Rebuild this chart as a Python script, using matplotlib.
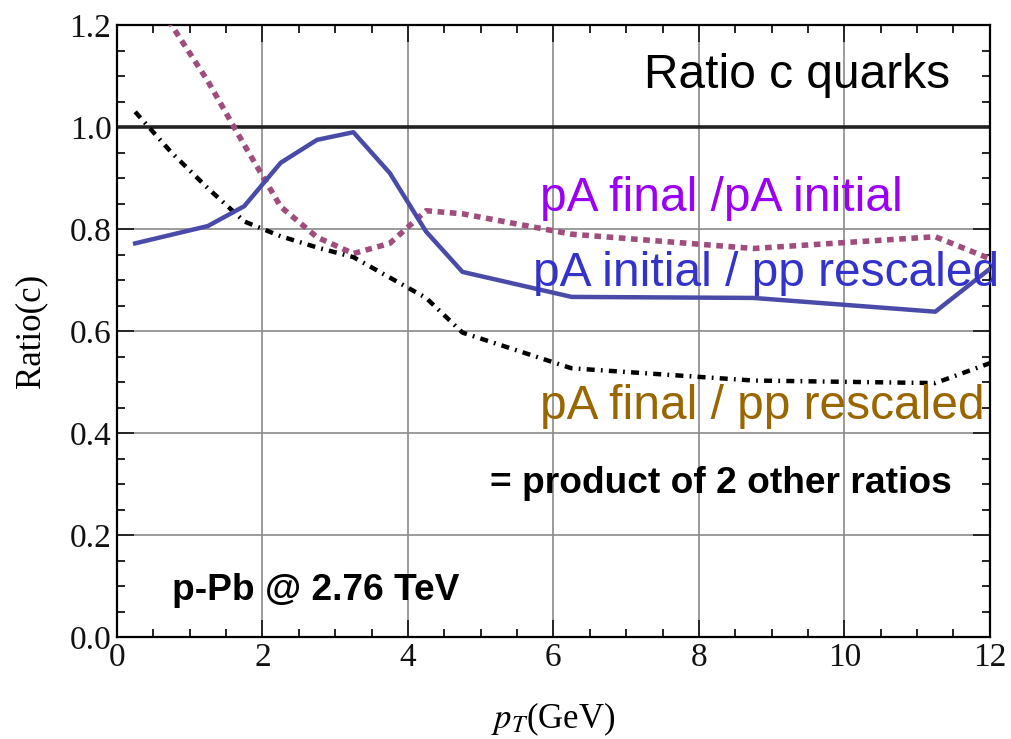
import matplotlib.pyplot as plt
import numpy as np
from matplotlib.ticker import MultipleLocator

plt.rcParams['mathtext.fontset'] = 'stix'

# pA initial / pp rescaled (solid)
pt_ini = np.array([0.25, 0.75, 1.25, 1.75, 2.25, 2.75, 3.25, 3.75, 4.25, 4.75, 6.25, 8.75, 11.25, 12.0])
r_ini = np.array([0.772, 0.789, 0.806, 0.845, 0.93, 0.975, 0.99, 0.91, 0.795, 0.716, 0.667, 0.665, 0.638, 0.722])

# pA final / pA initial (dashed)
pt_fin = np.array([0.25, 0.75, 1.25, 1.75, 2.25, 2.75, 3.25, 3.75, 4.25, 4.75, 6.25, 8.75, 11.25, 12.0])
r_fin = np.array([1.32, 1.20, 1.09, 0.965, 0.844, 0.784, 0.752, 0.772, 0.836, 0.83, 0.79, 0.762, 0.785, 0.742])

# pA final / pp rescaled (dot-dash)
pt_tot = np.array([0.25, 0.75, 1.25, 1.75, 2.25, 2.75, 3.25, 3.75, 4.25, 4.75, 6.25, 8.75, 11.25, 12.0])
r_tot = np.array([1.03, 0.95, 0.88, 0.815, 0.786, 0.764, 0.745, 0.705, 0.665, 0.597, 0.527, 0.503, 0.498, 0.537])

fig = plt.figure(figsize=(10.12, 7.39), dpi=100)
ax = fig.add_axes([0.1156, 0.138, 0.8625, 0.828])

ax.axhline(1.0, color='#222222', lw=2.6, zorder=2)
ax.plot(pt_fin, r_fin, color='#a04d7d', lw=4, ls=(0, (1.2, 1.0)), zorder=3)
ax.plot(pt_tot, r_tot, color='black', lw=3.2, ls=(0, (1.8, 1.4, 0.4, 1.4)), zorder=3)
ax.plot(pt_ini, r_ini, color='#4a4aa8', lw=3.2, zorder=4)

ax.set_xlim(0, 12)
ax.set_ylim(0, 1.2)
ax.xaxis.set_major_locator(MultipleLocator(2))
ax.xaxis.set_minor_locator(MultipleLocator(0.5))
ax.yaxis.set_major_locator(MultipleLocator(0.2))
ax.yaxis.set_minor_locator(MultipleLocator(0.05))
ax.set_yticklabels([f'{v:.1f}' for v in ax.get_yticks()])
ax.grid(True, which='major', color='#8a8a8a', lw=1.2)
ax.set_axisbelow(True)

ax.tick_params(which='both', direction='in', top=True, right=True, width=1.2)
ax.tick_params(which='major', length=12, labelsize=24, pad=4, colors='#111111')
ax.tick_params(which='minor', length=6)
for lab in ax.get_xticklabels() + ax.get_yticklabels():
    lab.set_family('Liberation Serif')
for sp in ax.spines.values():
    sp.set_linewidth(1.6)

ax.set_xlabel('$p_T$(GeV)', fontsize=25, family='Liberation Serif', labelpad=20)
ax.set_ylabel('Ratio(c)', fontsize=25, family='Liberation Serif', labelpad=16)

sans = 'Liberation Sans'
ax.text(11.45, 1.102, 'Ratio c quarks', fontsize=34.5, family=sans, color='black', ha='right', va='center')
ax.text(5.81, 0.86, 'pA final /pA initial', fontsize=34.5, family=sans, color='#9a00f5', ha='left', va='center')
ax.text(5.72, 0.712, 'pA initial / pp rescaled', fontsize=34.5, family=sans, color='#3333cc', ha='left', va='center',
        clip_on=False, zorder=5)
ax.text(5.81, 0.452, 'pA final / pp rescaled', fontsize=34.5, family=sans, color='#996600', ha='left', va='center')
ax.text(5.13, 0.302, '= product of 2 other ratios', fontsize=26.7, family=sans, weight='bold', color='black',
        ha='left', va='center')
ax.text(0.76, 0.092, 'p-Pb @ 2.76 TeV', fontsize=26.7, family=sans, weight='bold', color='black',
        ha='left', va='center')

fig.savefig('out.png', dpi=100)
